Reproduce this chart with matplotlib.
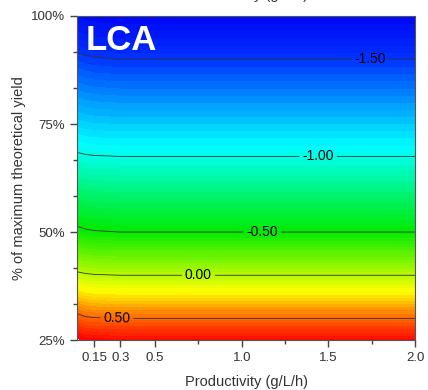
import numpy as np
import matplotlib
matplotlib.use("Agg")
import matplotlib.pyplot as plt
from matplotlib.colors import LinearSegmentedColormap
from matplotlib.ticker import FixedLocator, PercentFormatter

plt.rcParams['font.family'] = ['Liberation Sans', 'DejaVu Sans']
plt.rcParams['axes.unicode_minus'] = False

# productivity (g/L/h) and yield (fraction of theoretical max)
productivity = [0.05, 0.10, 0.15, 0.30, 0.50, 1.00, 2.00]
yield_frac = [0.25, 0.30, 0.40, 0.50, 0.675, 0.90, 1.00]

# LCA score (rows = yield, cols = productivity)
lca = [
    [0.80, 0.77, 0.76, 0.75, 0.75, 0.75, 0.75],
    [0.56, 0.52, 0.51, 0.50, 0.50, 0.50, 0.50],
    [0.04, 0.02, 0.01, 0.00, 0.00, 0.00, 0.00],
    [-0.46, -0.48, -0.49, -0.50, -0.50, -0.50, -0.50],
    [-0.98, -0.99, -0.995, -1.00, -1.00, -1.00, -1.00],
    [-1.465, -1.48, -1.49, -1.50, -1.50, -1.50, -1.50],
    [-1.68, -1.70, -1.71, -1.72, -1.72, -1.72, -1.72],
]

line_levels = [-1.5, -1.0, -0.5, 0.0, 0.5]
label_pos = [(1.74, 0.898), (1.44, 0.676), (1.12, 0.498), (0.75, 0.40), (0.28, 0.301)]

x_ticks = [0.15, 0.3, 0.5, 1.0, 1.5, 2.0]
x_ticklabels = ['0.15', '0.3', '0.5', '1.0', '1.5', '2.0']

vmin, vmax = -1.75, 0.78
nodes = [(-1.75, (0.0, 0.0, 0.95)), (-1.5, (0.0, 0.2, 1.0)), (-1.05, (0.0, 1.0, 1.0)),
         (-0.5, (0.0, 0.92, 0.0)), (0.2, (1.0, 1.0, 0.0)), (0.45, (1.0, 0.5, 0.0)),
         (0.78, (1.0, 0.0, 0.0))]
cmap = LinearSegmentedColormap.from_list(
    'lca', [((v - vmin) / (vmax - vmin), c) for v, c in nodes])

fig = plt.figure(figsize=(4.28, 3.9), dpi=100)
ax = fig.add_axes([0.180, 0.128, 0.790, 0.831])

X, Y = np.meshgrid(productivity, yield_frac)
Z = np.array(lca)
ax.contourf(X, Y, Z, levels=np.linspace(vmin, vmax, 70), cmap=cmap, vmin=vmin, vmax=vmax)
cs = ax.contour(X, Y, Z, levels=line_levels, colors='#333333', linewidths=0.6,
                linestyles='solid')
ax.clabel(cs, fmt='%.2f', fontsize=10, colors='black', manual=label_pos, inline=True, inline_spacing=3)

ax.set_xlim(0.05, 2.0)
ax.set_ylim(0.25, 1.0)
ax.xaxis.set_major_locator(FixedLocator(x_ticks))
ax.set_xticklabels(x_ticklabels)
ax.xaxis.set_minor_locator(FixedLocator([0.75, 1.25, 1.75]))
ax.yaxis.set_major_locator(FixedLocator([0.25, 0.5, 0.75, 1.0]))
ax.yaxis.set_minor_locator(FixedLocator(np.arange(0.25, 1.0, 0.25 / 3)))
ax.yaxis.set_major_formatter(PercentFormatter(1.0, decimals=0))

ax.tick_params(which='both', direction='out', colors='#444444', labelcolor='#333333', labelsize=9.5)
ax.tick_params(which='major', length=5, width=1)
ax.tick_params(which='minor', length=3, width=1)
for s in ax.spines.values():
    s.set_color('#555555')

ax.set_xlabel('Productivity (g/L/h)', fontsize=10.5, color='#333333', labelpad=8)
ax.set_ylabel('% of maximum theoretical yield', fontsize=10.5, color='#333333', labelpad=4)

ax.text(0.025, 0.975, 'LCA', transform=ax.transAxes, ha='left', va='top',
        color='white', fontsize=25, fontweight='bold')

# clipped title from the original figure above
fig.text(0.575, 1.0 + 1 / 390, 'Productivity (g/L/h)', ha='center', va='baseline',
         fontsize=10.5, color='#333333')

fig.savefig('out.png', dpi=100)
